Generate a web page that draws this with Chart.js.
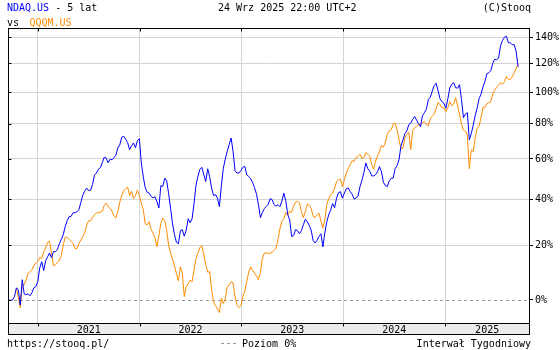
<!DOCTYPE html>
<html>
<head>
<meta charset="utf-8">
<script src="https://cdn.jsdelivr.net/npm/chart.js@4/dist/chart.umd.min.js"></script>
<style>
  html, body { margin: 0; padding: 0; background: #fff; overflow: hidden; }
  canvas { display: block; }
</style>
</head>
<body>
<canvas id="c" width="560" height="350"></canvas>
<script>
// Weekly closes (Fridays), change in % since the first week
const firstWeek = '2020-09-18';
const yearLabels = ['2021', '2022', '2023', '2024', '2025'];
const yTicks = [0, 20, 40, 60, 80, 100, 120, 140];

const ndaq = [
  0, -0.1, 0, 1.1, 4.1, 3.5, -1.6, 7.0, 2.1, 1.8,
  2.1, 1.4, 2.5, 4.2, 4.6, 6.4, 11.4, 13.6, 10.3, 14.0,
  15.5, 17.0, 15.1, 17.5, 17.5, 18.3, 20.6, 22.3, 24.3, 27.7,
  30.2, 32.0, 32.1, 33.7, 33.8, 34.2, 35.1, 38.3, 41.8, 43.7,
  45.2, 44.0, 44.2, 46.9, 51.6, 52.7, 54.6, 55.4, 58.0, 61.0,
  60.5, 58.0, 59.9, 59.6, 60.7, 62.1, 66.0, 67.8, 72.1, 72.6,
  70.9, 69.0, 65.0, 67.3, 68.8, 66.1, 70.1, 71.2, 58.0, 50.8,
  45.4, 43.2, 42.8, 41.3, 40.5, 41.1, 38.8, 35.9, 46.4, 46.1,
  50.1, 48.7, 42.5, 35.6, 28.9, 24.3, 21.2, 20.6, 26.0, 26.4,
  23.7, 26.2, 31.1, 29.4, 31.1, 37.9, 46.6, 51.0, 54.6, 55.6,
  51.8, 48.4, 54.9, 50.8, 45.2, 41.6, 42.1, 40.4, 36.5, 46.4,
  55.1, 59.9, 64.2, 67.8, 71.6, 64.0, 53.9, 52.7, 52.7, 53.9,
  55.6, 56.2, 51.8, 51.0, 49.8, 47.9, 45.4, 42.3, 37.4, 31.6,
  33.8, 35.6, 36.6, 37.6, 40.2, 39.7, 37.4, 36.7, 37.4, 36.5,
  39.0, 42.8, 39.2, 32.9, 30.6, 23.6, 23.9, 26.4, 26.0, 24.7,
  26.0, 28.5, 30.9, 29.8, 28.3, 26.2, 22.0, 20.9, 22.0, 23.6,
  24.7, 19.4, 25.1, 29.8, 32.9, 35.1, 37.9, 36.0, 40.4, 43.0,
  43.5, 40.4, 42.8, 44.9, 45.3, 43.5, 42.3, 40.0, 40.5, 41.3,
  45.9, 49.0, 52.9, 57.9, 54.9, 53.6, 51.3, 51.2, 51.9, 53.3,
  56.0, 53.3, 48.1, 46.4, 45.9, 48.8, 50.0, 50.1, 54.9, 56.5,
  59.6, 67.1, 70.4, 74.1, 75.7, 79.4, 80.3, 82.6, 84.3, 82.1,
  79.9, 78.2, 84.8, 86.7, 88.9, 95.0, 96.6, 100.6, 104.3, 106.0,
  100.9, 95.6, 93.7, 92.7, 89.5, 95.6, 102.6, 105.3, 106.3, 102.9,
  102.6, 105.0, 95.0, 83.6, 85.8, 86.7, 70.6, 74.1, 79.1, 84.8,
  89.5, 95.6, 98.6, 103.4, 107.3, 112.6, 113.4, 114.7, 120.2, 123.1,
  122.8, 124.0, 133.4, 137.6, 140.1, 140.9, 135.7, 135.7, 134.2, 134.2,
  128.8, 117.5
];

const qqqm = [
  null, null, null, null, 4.1, 0.8, -2.5, 5.1, 5.2, 7.0,
  9.4, 9.9, 10.6, 12.3, 13.1, 13.7, 15.3, 14.8, 17.5, 19.0,
  21.2, 21.6, 17.1, 12.1, 12.5, 13.2, 14.2, 15.9, 20.0, 23.3,
  23.3, 22.5, 21.6, 20.8, 18.8, 18.6, 20.6, 22.1, 23.5, 25.1,
  28.3, 30.2, 30.2, 31.6, 32.9, 33.7, 33.8, 34.0, 34.4, 37.0,
  38.1, 36.5, 35.7, 34.4, 32.2, 31.4, 34.4, 38.6, 41.6, 44.0,
  44.9, 45.7, 41.6, 43.7, 40.2, 41.6, 44.2, 41.6, 38.1, 35.1,
  28.9, 28.5, 29.8, 26.6, 24.9, 23.1, 19.4, 23.9, 29.1, 31.4,
  30.4, 26.0, 20.0, 16.7, 14.6, 12.0, 9.2, 6.6, 11.7, 9.5,
  1.1, 4.5, 5.6, 6.8, 6.3, 10.6, 14.8, 17.0, 19.2, 19.8,
  16.3, 12.5, 9.7, 9.9, 3.5, -0.6, -1.9, -2.9, -4.1, 0.6,
  -1.2, 0.4, 4.6, 5.1, 6.3, 5.9, 1.1, -1.6, -2.5, -1.9,
  1.1, 3.1, 6.3, 9.7, 11.7, 10.3, 9.4, 8.3, 7.0, 9.5,
  14.8, 16.9, 17.0, 16.7, 16.9, 17.3, 18.0, 18.8, 22.3, 26.8,
  30.0, 31.1, 33.8, 32.6, 34.4, 33.9, 36.7, 38.6, 38.9, 38.3,
  34.2, 31.6, 34.4, 37.6, 37.1, 35.6, 32.2, 31.6, 32.9, 33.6,
  30.2, 27.1, 30.7, 37.4, 40.2, 42.1, 42.7, 45.2, 48.4, 49.3,
  49.6, 45.9, 49.3, 52.7, 54.9, 57.0, 59.1, 58.8, 60.7, 61.3,
  62.5, 60.4, 60.7, 63.4, 62.6, 61.5, 57.0, 54.6, 59.0, 61.5,
  64.2, 67.4, 66.4, 69.2, 73.8, 75.7, 76.4, 79.7, 80.3, 76.4,
  70.6, 65.5, 65.8, 71.8, 73.8, 74.9, 65.0, 76.1, 77.5, 78.4,
  79.5, 78.9, 80.6, 81.2, 79.5, 78.7, 83.0, 84.6, 85.8, 89.1,
  93.2, 91.7, 89.9, 89.9, 87.4, 89.8, 93.7, 91.2, 92.1, 96.3,
  90.9, 85.8, 79.7, 76.1, 75.5, 73.2, 54.9, 65.0, 64.0, 71.8,
  77.2, 78.6, 83.6, 90.1, 90.1, 92.4, 93.2, 93.7, 98.9, 101.2,
  103.2, 104.7, 106.3, 105.3, 107.0, 110.7, 108.8, 108.6, 110.4, 113.4,
  116.6, 119.3
];

const DAY = 86400000;
const dayOf = s => Date.parse(s + 'T00:00:00Z') / DAY;
const start = dayOf(firstWeek);
// the value axis is logarithmic in (1 + change)
const toPoints = arr => arr.map((v, i) => ({ x: start + 7 * i, y: v == null ? null : 1 + v / 100 }));
const yearStarts = yearLabels.map(y => dayOf(y + '-01-01'));

const FONT = '"DejaVu Sans Mono", "Liberation Mono", monospace';
const BLUE = '#0000ff';
const ORANGE = '#ff8c00';
const GRID = '#d4d4d4';

const stooqFrame = {
  id: 'stooqFrame',
  beforeDraw(chart) {
    const ctx = chart.ctx;
    ctx.save();
    ctx.fillStyle = '#fff';
    ctx.fillRect(0, 0, chart.width, chart.height);
    ctx.restore();
  },
  beforeDatasetsDraw(chart) {
    const { ctx, chartArea: a, scales: { y } } = chart;
    const y0 = Math.round(y.getPixelForValue(1)) + 0.5;
    ctx.save();
    ctx.strokeStyle = '#999';
    ctx.lineWidth = 1;
    ctx.setLineDash([3, 3]);
    ctx.beginPath();
    ctx.moveTo(a.left, y0);
    ctx.lineTo(a.right, y0);
    ctx.stroke();
    ctx.restore();
  },
  afterDraw(chart) {
    const { ctx, chartArea: a, scales: { x, y } } = chart;
    const L = a.left + 0.5, R = a.right + 0.5, T = a.top + 0.5, B = a.bottom + 0.5;
    ctx.save();
    ctx.strokeStyle = '#000';
    ctx.lineWidth = 1;
    ctx.setLineDash([]);

    // date band under the plot
    const bandH = 11;
    ctx.fillStyle = '#ececec';
    ctx.fillRect(L, B, R - L, bandH);
    ctx.strokeRect(L, B, R - L, bandH);

    // plot frame
    ctx.strokeRect(L, T, R - L, B - T);

    ctx.beginPath();
    // inner ticks on the left edge
    y.ticks.forEach(t => {
      const py = Math.round(y.getPixelForValue(t.value)) + 0.5;
      ctx.moveTo(L, py); ctx.lineTo(L + 3, py);
    });
    // year ticks on the top edge and into the band
    yearStarts.forEach(d => {
      const px = Math.round(x.getPixelForValue(d)) + 0.5;
      ctx.moveTo(px, T); ctx.lineTo(px, T + 3);
      ctx.moveTo(px, B); ctx.lineTo(px, B + 3);
    });
    ctx.stroke();

    // year names centred on the visible part of each year
    ctx.font = '10px ' + FONT;
    ctx.fillStyle = '#000';
    ctx.textAlign = 'center';
    ctx.textBaseline = 'alphabetic';
    yearLabels.forEach((lab, i) => {
      const from = Math.max(a.left, x.getPixelForValue(yearStarts[i]));
      const next = dayOf((+lab + 1) + '-01-01');
      const to = Math.min(a.right, x.getPixelForValue(next));
      ctx.fillText(lab, (from + to) / 2, 332.5);
    });

    // header
    ctx.textAlign = 'left';
    ctx.fillStyle = BLUE;
    ctx.fillText('NDAQ.US', 7, 11.4);
    ctx.fillStyle = '#000';
    ctx.fillText(' - 5 lat', 7 + ctx.measureText('NDAQ.US').width, 11.4);
    ctx.fillText('24 Wrz 2025 22:00 UTC+2', 218, 11.4);
    ctx.textAlign = 'right';
    ctx.fillText('(C)Stooq', 531, 11.4);
    ctx.textAlign = 'left';
    ctx.fillText('vs', 7, 25.7);
    ctx.fillStyle = ORANGE;
    ctx.fillText('QQQM.US', 29.5, 25.7);

    // footer
    ctx.fillStyle = '#000';
    ctx.fillText('https://stooq.pl/', 7, 346.5);
    ctx.fillText('Poziom 0%', 242, 346.5);
    ctx.textAlign = 'right';
    ctx.fillText('Interwał Tygodniowy', 531, 346.5);
    ctx.strokeStyle = '#999';
    ctx.setLineDash([3, 3]);
    ctx.beginPath();
    ctx.moveTo(221, 343.5);
    ctx.lineTo(238, 343.5);
    ctx.stroke();
    ctx.restore();
  }
};

new Chart(document.getElementById('c'), {
  type: 'line',
  data: {
    datasets: [
      { label: 'NDAQ.US', data: toPoints(ndaq), borderColor: BLUE, borderWidth: 1, pointRadius: 0, tension: 0, fill: false },
      { label: 'QQQM.US', data: toPoints(qqqm), borderColor: ORANGE, borderWidth: 1, pointRadius: 0, tension: 0, fill: false }
    ]
  },
  options: {
    responsive: false,
    animation: false,
    devicePixelRatio: 1,
    parsing: true,
    layout: { padding: { left: 8, top: 28, right: 0, bottom: 0 } },
    plugins: { legend: { display: false }, tooltip: { enabled: false }, title: { display: false } },
    scales: {
      x: {
        type: 'linear',
        min: dayOf('2020-09-16'),
        max: dayOf('2025-10-28'),
        afterBuildTicks: s => { s.ticks = yearStarts.map(v => ({ value: v })); },
        afterFit: s => { s.height = 27; },
        ticks: { display: false },
        grid: { color: GRID, lineWidth: 1, drawTicks: false },
        border: { display: false }
      },
      y: {
        type: 'logarithmic',
        position: 'right',
        min: 0.9262,
        max: 2.476,
        afterBuildTicks: s => { s.ticks = yTicks.map(p => ({ value: 1 + p / 100 })); },
        afterFit: s => { s.width = 31; },
        ticks: {
          padding: 2,
          color: '#000',
          font: { family: FONT, size: 10 },
          callback: v => Math.round((v - 1) * 100) + '%'
        },
        grid: {
          color: c => (c.tick && Math.abs(c.tick.value - 1) < 1e-6) ? 'rgba(0,0,0,0)' : GRID,
          lineWidth: 1,
          drawTicks: true,
          tickLength: 4,
          tickColor: '#000'
        },
        border: { display: false }
      }
    }
  },
  plugins: [stooqFrame]
});
</script>
</body>
</html>
